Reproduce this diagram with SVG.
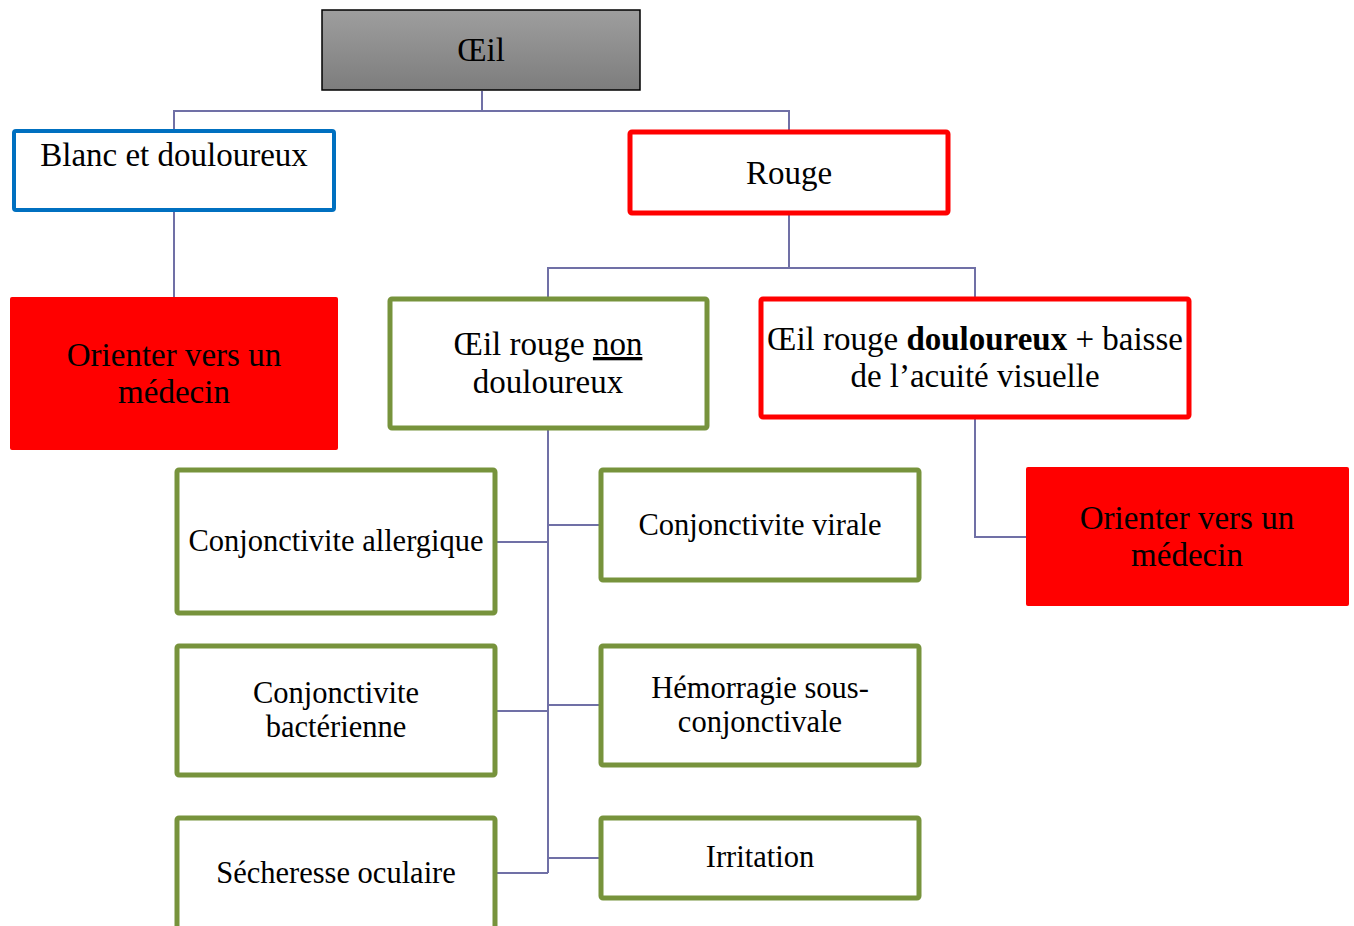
<svg xmlns="http://www.w3.org/2000/svg" width="1354" height="926" viewBox="0 0 1354 926">
<defs>
<linearGradient id="grey" x1="0" y1="0" x2="0" y2="1">
<stop offset="0" stop-color="#9e9e9e"/>
<stop offset="1" stop-color="#7d7d7d"/>
</linearGradient>
</defs>
<style>
text{font-family:"Liberation Serif","Times New Roman",serif;fill:#000;text-anchor:middle}
.big{font-size:33px}
.sm{font-size:30.5px}
.conn{fill:none;stroke:#7070a6;stroke-width:2}
.green{fill:#fff;stroke:#77933c;stroke-width:5}
.redb{fill:#fff;stroke:#ff0000;stroke-width:5}
.redfill{fill:#ff0000;stroke:none}
</style>
<rect width="1354" height="926" fill="#fff"/>
<g id="connectors">
<path class="conn" d="M482 91V111M174 131V111H789V131"/>
<path class="conn" d="M174 211V297"/>
<path class="conn" d="M789 215V268M548 297V268H975V297"/>
<path class="conn" d="M975 419V537H1026"/>
<path class="conn" d="M548 430V873"/>
<path class="conn" d="M497 542H548M548 525H600"/>
<path class="conn" d="M497 711H548M548 705H600"/>
<path class="conn" d="M497 873H548M548 858H600"/>
</g>
<g id="oeil">
<rect x="322" y="10" width="318" height="80" fill="url(#grey)" stroke="#000" stroke-width="1.5"/>
<text class="big" x="481" y="61">Œil</text>
</g>
<g id="blanc">
<rect x="14" y="131" width="320" height="79" rx="2" fill="#fff" stroke="#0070c0" stroke-width="4"/>
<text class="big" x="174" y="166">Blanc et douloureux</text>
</g>
<g id="medecin1">
<rect class="redfill" x="10" y="297" width="328" height="153" rx="2"/>
<text class="big" x="174" y="366">Orienter vers un</text>
<text class="big" x="174" y="403">médecin</text>
</g>
<g id="rouge">
<rect class="redb" x="630" y="132" width="318" height="81" rx="2"/>
<text class="big" x="789" y="184">Rouge</text>
</g>
<g id="nondouloureux">
<rect class="green" x="390" y="299" width="317" height="129" rx="2"/>
<text class="big" x="548" y="355">Œil rouge <tspan text-decoration="underline">non</tspan></text>
<text class="big" x="548" y="393">douloureux</text>
</g>
<g id="douloureux">
<rect class="redb" x="761" y="299" width="428" height="118" rx="2"/>
<text class="big" x="975" y="350">Œil rouge <tspan font-weight="bold">douloureux</tspan> + baisse</text>
<text class="big" x="975" y="387">de l’acuité visuelle</text>
</g>
<g id="medecin2">
<rect class="redfill" x="1026" y="467" width="323" height="139" rx="2"/>
<text class="big" x="1187" y="529">Orienter vers un</text>
<text class="big" x="1187" y="566">médecin</text>
</g>
<g id="allergique">
<rect class="green" x="177" y="470" width="318" height="143" rx="2"/>
<text class="sm" x="336" y="551">Conjonctivite allergique</text>
</g>
<g id="virale">
<rect class="green" x="601" y="470" width="318" height="110" rx="2"/>
<text class="sm" x="760" y="535">Conjonctivite virale</text>
</g>
<g id="bacterienne">
<rect class="green" x="177" y="646" width="318" height="129" rx="2"/>
<text class="sm" x="336" y="703">Conjonctivite</text>
<text class="sm" x="336" y="737">bactérienne</text>
</g>
<g id="hemorragie">
<rect class="green" x="601" y="646" width="318" height="119" rx="2"/>
<text class="sm" x="760" y="698">Hémorragie sous-</text>
<text class="sm" x="760" y="732">conjonctivale</text>
</g>
<g id="secheresse">
<rect class="green" x="177" y="818" width="318" height="130" rx="2"/>
<text class="sm" x="336" y="883">Sécheresse oculaire</text>
</g>
<g id="irritation">
<rect class="green" x="601" y="818" width="318" height="80" rx="2"/>
<text class="sm" x="760" y="867">Irritation</text>
</g>
</svg>
